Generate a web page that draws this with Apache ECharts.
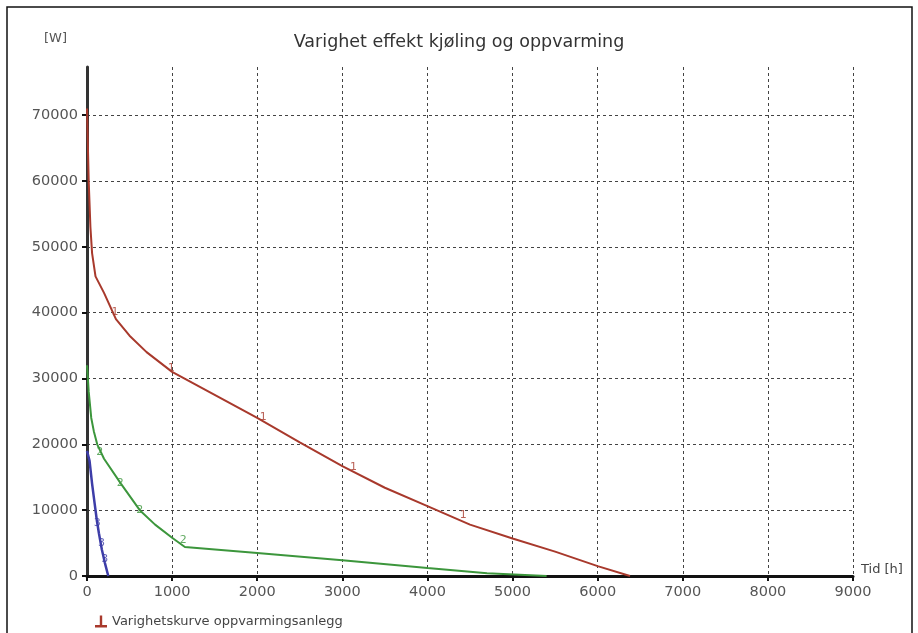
<!DOCTYPE html>
<html>
<head>
<meta charset="utf-8">
<script src="https://cdn.jsdelivr.net/npm/echarts@6/dist/echarts.min.js"></script>
<style>
html,body{margin:0;padding:0;background:#fff;}
#c{width:918px;height:633px;}
</style>
</head>
<body>
<div id="c"></div>
<script>
// Data (hours, watts)
var titleText = 'Varighet effekt kjøling og oppvarming';
var legendName = 'Varighetskurve oppvarmingsanlegg';
var xTicks = [0,1000,2000,3000,4000,5000,6000,7000,8000,9000];
var yTicks = [0,10000,20000,30000,40000,50000,60000,70000];

var heating = [[0,71000],[20,60000],[40,53000],[60,49000],[100,45500],[200,43000],[340,39000],[500,36500],[700,34000],[1000,31000],[1500,27500],[2000,24000],[2500,20300],[3000,16700],[3500,13400],[4000,10600],[4500,7800],[5000,5700],[5500,3700],[6000,1500],[6380,0]];
var cooling2 = [[0,32000],[20,28000],[50,24000],[80,22000],[120,20000],[200,17800],[400,14000],[620,10000],[800,7800],[1000,5800],[1150,4400],[2000,3500],[3000,2400],[4000,1200],[4700,400],[5400,0]];
var cooling3 = [[0,19000],[30,17500],[60,14000],[90,11000],[115,8500],[140,6500],[175,4000],[210,2000],[250,0]];

var heatingMarks = [[330,40000],[990,31600],[2070,24200],[3130,16500],[4420,9300]];
var cooling2Marks = [[150,18800],[390,14100],[620,10000],[1130,5500]];
var cooling3Marks = [[120,8000],[170,5000],[210,2600]];

var red = '#a8392c', green = '#3c963c', blue = '#3d3da8';
var FONT = 'DejaVu Sans, Verdana, sans-serif';

var chart = echarts.init(document.getElementById('c'));
function markSeries(data, txt, color){
  return {type:'scatter', data:data, symbolSize:0, silent:true, z:5,
    label:{show:true, position:'inside', formatter:txt, color:color, fontSize:11, fontFamily:FONT}};
}
chart.setOption({
  animation:false,
  textStyle:{fontFamily:FONT},
  title:{text:titleText, left:'center', top:28, textStyle:{fontSize:17.5, fontWeight:'normal', color:'#333', fontFamily:FONT}},
  legend:{data:[legendName], left:90, top:610, itemWidth:12, itemHeight:12, itemGap:6,
    icon:'path://M4,0 L6,0 L6,8 L10,8 L10,10 L0,10 L0,8 L4,8 Z',
    textStyle:{fontSize:13, color:'#444', fontFamily:FONT}},
  graphic:[{type:'rect', shape:{x:7, y:7, width:905, height:640}, style:{fill:'none', stroke:'#111', lineWidth:1.5}, silent:true}],
  grid:{left:87, right:65, top:67, bottom:57},
  xAxis:{type:'value', min:0, max:9000, interval:1000,
    name:'Tid [h]', nameLocation:'end', nameGap:8,
    nameTextStyle:{fontSize:13, color:'#444', verticalAlign:'bottom', fontFamily:FONT},
    axisLine:{lineStyle:{color:'#111', width:3}},
    axisTick:{show:true, inside:false, length:5, lineStyle:{color:'#111', width:2}},
    axisLabel:{fontSize:14.5, color:'#555', margin:9, fontFamily:FONT,
      formatter:function(v){return xTicks.indexOf(v)>=0 ? String(v) : '';}},
    splitLine:{show:true, showMinLine:false, lineStyle:{color:'#444', type:[3,3], width:1}}},
  yAxis:{type:'value', min:0, max:77300, interval:10000,
    name:'[W]', nameLocation:'end', nameGap:22,
    nameTextStyle:{fontSize:13, color:'#555', align:'right', padding:[0,20,0,0], fontFamily:FONT},
    axisLine:{show:true, lineStyle:{color:'#333', width:3}},
    axisTick:{show:true, inside:false, length:5, lineStyle:{color:'#111', width:2}},
    axisLabel:{fontSize:14.5, color:'#555', margin:9, showMaxLabel:false, fontFamily:FONT,
      formatter:function(v){return yTicks.indexOf(v)>=0 ? String(v) : '';}},
    splitLine:{show:true, showMinLine:false, showMaxLine:false, lineStyle:{color:'#444', type:[3,3], width:1}}},
  series:[
    {name:legendName, type:'line', data:heating, showSymbol:false, lineStyle:{color:red, width:2}, itemStyle:{color:red}, z:4},
    {name:'Kjøling 2', type:'line', data:cooling2, showSymbol:false, lineStyle:{color:green, width:2}, itemStyle:{color:green}, z:3},
    {name:'Kjøling 3', type:'line', data:cooling3, showSymbol:false, lineStyle:{color:blue, width:2.5}, itemStyle:{color:blue}, z:3},
    markSeries(heatingMarks,'1',red),
    markSeries(cooling2Marks,'2',green),
    markSeries(cooling3Marks,'3',blue)
  ]
});
</script>
</body>
</html>
